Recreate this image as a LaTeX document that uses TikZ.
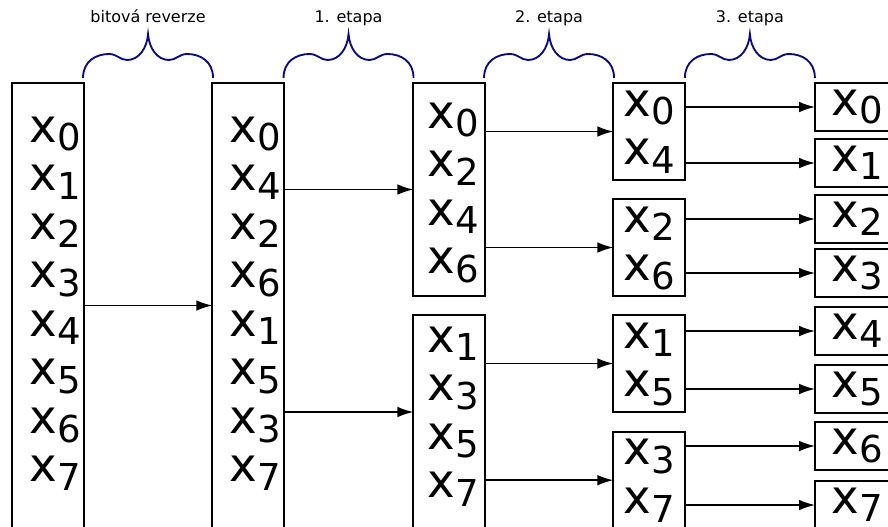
\documentclass[tikz,border=0pt]{standalone}
\usepackage{fontspec}
\setmainfont{DejaVu Sans}
\usetikzlibrary{arrows.meta,calc}

\definecolor{bracecol}{RGB}{10,10,135}
\newcommand{\xn}[1]{x\raisebox{-6.6pt}{\fontsize{27.8}{28}\selectfont #1}}
\newcommand{\xcol}[2][0pt]{\begin{tabular}[t]{@{\hspace{#1}}c@{}}#2\end{tabular}}

\tikzset{
	box/.style 2 args={draw, line width=1.4pt, minimum width=53.6pt, inner sep=0pt, outer sep=0pt, anchor=north west, text height=#1, text depth=#2, font=\fontsize{35}{36.4}\selectfont},
	resbox/.style={box={24pt}{12pt}, minimum width=63pt},
	arr/.style={-{Latex[length=12pt,width=8pt]}, line width=1.1pt},
	stage/.style={font=\fontsize{12}{14}\selectfont, anchor=base},
	pics/curly/.style={code={
		\draw[bracecol, line width=1.4pt] (-65,0) .. controls (-65,-17) and (-52,-24) .. (-39,-24) .. controls (-31,-24) and (-28,-18) .. (-21,-18) .. controls (-9,-18) and (-1,-30) .. (0,-44) .. controls (1,-30) and (9,-18) .. (21,-18) .. controls (28,-18) and (31,-24) .. (39,-24) .. controls (52,-24) and (65,-17) .. (65,0);
		\node[stage] (-text) at (0,-55.5) {#1};
	}}
}

\begin{document}
\begin{tikzpicture}[x=0.75pt, y=-0.75pt]
	
	\useasboundingbox (0,0) rectangle (888,526);
	\clip (0,0) rectangle (888,526);
	
	\node[box={44.25pt}{289.5pt}] (inp) at (12.3, 83) {\xcol[10.5pt]{\xn0\\\xn1\\\xn2\\\xn3\\\xn4\\\xn5\\\xn6\\\xn7}};
	\node[box={44.25pt}{289.5pt}] (bitrev) at (212.3, 83) {\xcol[10.5pt]{\xn0\\\xn4\\\xn2\\\xn6\\\xn1\\\xn5\\\xn3\\\xn7}};
	
	\node[box={33.75pt}{126pt}] (st1a) at (413.3, 83) {\xcol[6pt]{\xn0\\\xn2\\\xn4\\\xn6}};
	\node[box={27.75pt}{141pt}] (st1b) at (413.3, 315) {\xcol[6pt]{\xn1\\\xn3\\\xn5\\\xn7}};
	
	\node[box={24.75pt}{48pt}] (st2a) at (613.3, 83) {\xcol{\xn0\\\xn4}};
	\node[box={24.75pt}{48pt}] (st2b) at (613.3, 199) {\xcol{\xn2\\\xn6}};
	\node[box={24.75pt}{48pt}] (st2c) at (613.3, 315) {\xcol{\xn1\\\xn5}};
	\node[box={24.75pt}{48pt}] (st2d) at (613.3, 431.7) {\xcol{\xn3\\\xn7}};
	
	\node[resbox] (o0) at (815, 83) {\xcol{\xn0}};
	\node[resbox] (o1) at (815, 139) {\xcol{\xn1}};
	\node[resbox] (o2) at (815, 195) {\xcol{\xn2}};
	\node[resbox] (o3) at (815, 249) {\xcol{\xn3}};
	\node[resbox] (o4) at (815, 307) {\xcol{\xn4}};
	\node[resbox] (o5) at (815, 365) {\xcol{\xn5}};
	\node[resbox] (o6) at (815, 422) {\xcol{\xn6}};
	\node[resbox] (o7) at (815, 481) {\xcol{\xn7}};
	
	\coordinate (st1bin) at ([yshift=-72.75pt]st1b.north west);
	
	\draw[arr] (inp.east |- bitrev.west) -- (bitrev.west);
	\draw[arr] (bitrev.east |- st1a.west) -- (st1a.west);
	\draw[arr] (bitrev.east |- st1bin) -- (st1bin);
	
	\draw[arr] (st1a.east |- st2a.west) -- (st2a.west);
	\draw[arr] (st1a.east |- st2b.west) -- (st2b.west);
	\draw[arr] (st1b.east |- st2c.west) -- (st2c.west);
	\draw[arr] (st1b.east |- st2d.west) -- (st2d.west);
	
	\draw[arr] (st2a.east |- o0.west) -- (o0.west);
	\draw[arr] (st2a.east |- o1.west) -- (o1.west);
	\draw[arr] (st2b.east |- o2.west) -- (o2.west);
	\draw[arr] (st2b.east |- o3.west) -- (o3.west);
	\draw[arr] (st2c.east |- o4.west) -- (o4.west);
	\draw[arr] (st2c.east |- o5.west) -- (o5.west);
	\draw[arr] (st2d.east |- o6.west) -- (o6.west);
	\draw[arr] (st2d.east |- o7.west) -- (o7.west);
	
	\pic (lrev) at ($(inp.north east)!0.5!(bitrev.north west) + (0,-5)$) {curly=bitová reverze};
	\pic (lone) at ($(bitrev.north east)!0.5!(st1a.north west) + (0,-5)$) {curly=1. etapa};
	\pic (ltwo) at ($(st1a.north east)!0.5!(st2a.north west) + (0,-5)$) {curly=2. etapa};
	\pic (lthree) at ($(st2a.north east)!0.5!(o0.north west) + (0,-5)$) {curly=3. etapa};
	
\end{tikzpicture}
\end{document}
